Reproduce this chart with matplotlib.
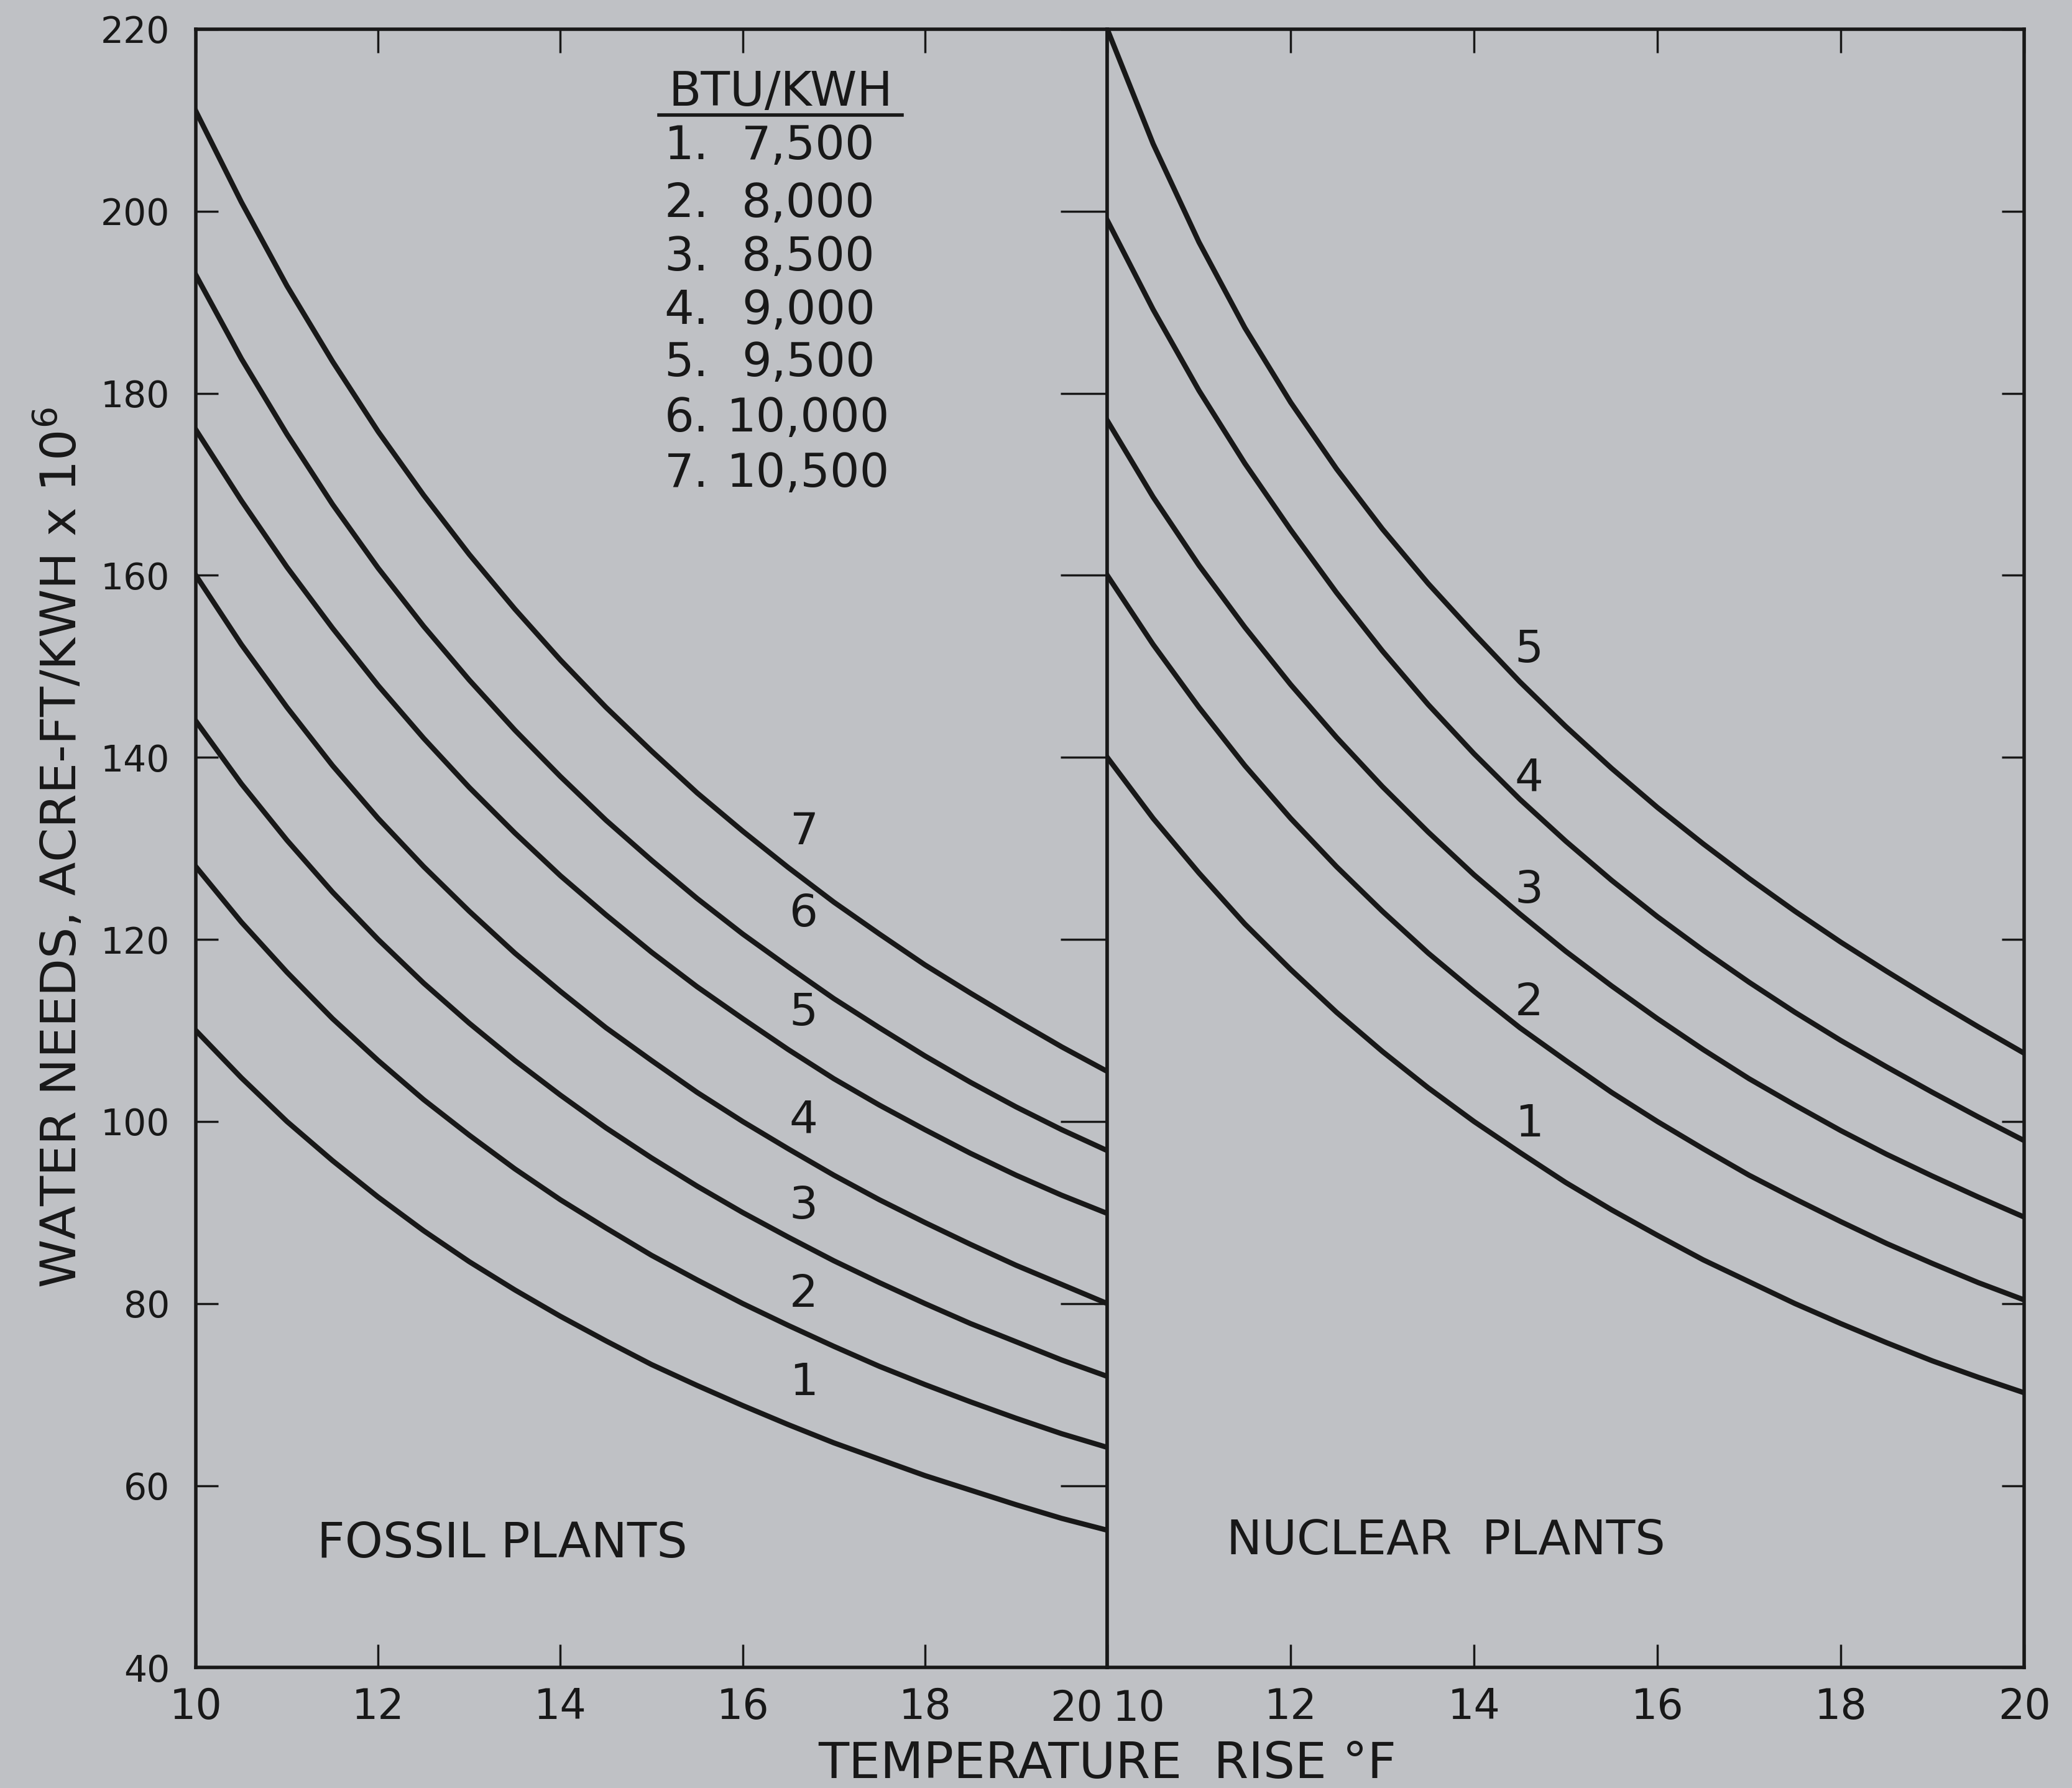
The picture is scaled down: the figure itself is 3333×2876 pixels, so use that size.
import matplotlib.pyplot as plt

# temperature rise, deg F
temp_rise = [10, 10.5, 11, 11.5, 12, 12.5, 13, 13.5, 14, 14.5, 15,
             15.5, 16, 16.5, 17, 17.5, 18, 18.5, 19, 19.5, 20]

# fossil plants, water needs (acre-ft/kwh x 10^6), curves 1..7
fossil_1 = [110, 104.8, 100, 95.7, 91.7, 88, 84.6, 81.5, 78.6, 75.9, 73.3,
            71, 68.8, 66.7, 64.7, 62.9, 61.1, 59.5, 57.9, 56.4, 55.1]
fossil_2 = [128, 121.9, 116.4, 111.3, 106.7, 102.4, 98.5, 94.8, 91.4, 88.3, 85.3,
            82.6, 80, 77.6, 75.3, 73.1, 71.1, 69.2, 67.4, 65.7, 64.2]
fossil_3 = [144, 137.1, 130.9, 125.2, 120, 115.2, 110.8, 106.7, 102.9, 99.3, 96,
            92.9, 90, 87.3, 84.7, 82.3, 80, 77.8, 75.8, 73.8, 72]
fossil_4 = [160, 152.4, 145.5, 139.1, 133.3, 128, 123.1, 118.5, 114.3, 110.3, 106.7,
            103.2, 100, 97, 94.1, 91.4, 88.9, 86.5, 84.2, 82.1, 80]
fossil_5 = [176, 168.2, 160.9, 154.2, 147.9, 142.1, 136.7, 131.7, 127, 122.7, 118.6,
            114.8, 111.3, 107.9, 104.7, 101.8, 99.1, 96.5, 94.1, 91.9, 89.9]
fossil_6 = [193, 183.8, 175.5, 167.8, 160.8, 154.4, 148.5, 143, 137.9, 133.1, 128.7,
            124.5, 120.6, 117, 113.5, 110.3, 107.2, 104.3, 101.6, 99.1, 96.8]
fossil_7 = [211, 201, 191.8, 183.5, 175.8, 168.8, 162.3, 156.3, 150.7, 145.5, 140.7,
            136.1, 131.9, 127.9, 124.1, 120.6, 117.2, 114.1, 111.1, 108.2, 105.5]

# nuclear plants, curves 1..5
nuclear_1 = [140, 133.3, 127.3, 121.7, 116.7, 112, 107.7, 103.7, 100, 96.6, 93.3,
             90.3, 87.5, 84.8, 82.4, 80, 77.8, 75.7, 73.7, 71.9, 70.2]
nuclear_2 = [160, 152.4, 145.5, 139.1, 133.3, 128, 123.1, 118.5, 114.3, 110.3, 106.7,
             103.2, 100, 97, 94.1, 91.5, 89, 86.6, 84.4, 82.3, 80.4]
nuclear_3 = [177, 168.6, 161.1, 154.3, 148, 142.2, 136.8, 131.8, 127.1, 122.8, 118.7,
             114.9, 111.3, 107.9, 104.7, 101.8, 99, 96.4, 94, 91.7, 89.5]
nuclear_4 = [199, 189.2, 180.3, 172.3, 165, 158.1, 151.7, 145.8, 140.4, 135.4, 130.8,
             126.5, 122.5, 118.8, 115.3, 112, 108.9, 106, 103.2, 100.5, 97.9]
nuclear_5 = [220, 207.4, 196.6, 187.2, 179, 171.7, 165.1, 159.1, 153.6, 148.3, 143.4,
             138.8, 134.5, 130.5, 126.7, 123.1, 119.7, 116.5, 113.4, 110.4, 107.5]

heat_rates = ["7,500", "8,000", "8,500", "9,000", "9,500", "10,000", "10,500"]
x_ticks = [10, 12, 14, 16, 18, 20]
y_ticks = [40, 60, 80, 100, 120, 140, 160, 180, 200, 220]

paper = "#bfc1c5"
ink = "#181818"
plt.rcParams["font.family"] = ["DejaVu Sans"]

fig = plt.figure(figsize=(33.33, 28.76), dpi=100, facecolor=paper)
ax1 = fig.add_axes([0.0945, 0.0673, 0.4399, 0.9164], facecolor=paper)
ax2 = fig.add_axes([0.5344, 0.0673, 0.4425, 0.9164], facecolor=paper)

fossil = [fossil_1, fossil_2, fossil_3, fossil_4, fossil_5, fossil_6, fossil_7]
nuclear = [nuclear_1, nuclear_2, nuclear_3, nuclear_4, nuclear_5]

for vals in fossil:
    ax1.plot(temp_rise, vals, color=ink, lw=6, solid_joinstyle="round")
for vals in nuclear:
    ax2.plot(temp_rise, vals, color=ink, lw=6, solid_joinstyle="round")

for ax in (ax1, ax2):
    ax.set_xlim(10, 20)
    ax.set_ylim(40, 220)
    for s in ax.spines.values():
        s.set_linewidth(4)
        s.set_color(ink)
    ax.set_xticks(x_ticks)
    ax.set_yticks(y_ticks)
    ax.tick_params(axis="x", direction="in", length=27, width=2.5, color=ink,
                   top=True, bottom=True, labelsize=48, pad=22, labelcolor=ink)

# the "20|10" pair at the shared border is pushed apart by hand
ax1.set_xticklabels([str(t) for t in x_ticks[:-1]] + [""])
ax2.set_xticklabels([""] + [str(t) for t in x_ticks[1:]])
ax1.annotate("20", xy=(1, 0), xycoords="axes fraction", xytext=(-5, -24),
             textcoords="offset points", ha="right", va="top", fontsize=48, color=ink)
ax2.annotate("10", xy=(0, 0), xycoords="axes fraction", xytext=(6, -24),
             textcoords="offset points", ha="left", va="top", fontsize=48, color=ink)

ax1.tick_params(axis="y", direction="in", length=26, width=2.5, color=ink,
                left=True, right=True, labelsize=42, pad=30, labelcolor=ink)
ax1.set_yticklabels([str(v) for v in y_ticks])
# shared middle border: ticks cross it on both sides
for t in ax1.yaxis.get_major_ticks():
    t.tick2line.set_marker(0)
    t.tick2line.set_markersize(54)
    t.tick2line.set_markeredgewidth(2.5)
ax2.tick_params(axis="y", direction="in", length=26, width=2.5, color=ink,
                left=False, right=True, labelleft=False)

# curve numbers
fossil_lbl_y = [71.3, 81, 90.7, 100.1, 111.9, 122.8, 131.8]
for i, y in enumerate(fossil_lbl_y):
    ax1.text(16.67, y, str(i + 1), fontsize=52, color=ink, ha="center", va="center")
nuclear_lbl_y = [99.7, 113, 125.4, 137.7, 151.8]
for i, y in enumerate(nuclear_lbl_y):
    ax2.text(14.6, y, str(i + 1), fontsize=52, color=ink, ha="center", va="center")

# heat rate key
ax1.text(16.42, 213, "BTU/KWH", fontsize=55, color=ink, ha="center", va="center")
ax1.plot([15.08, 17.75], [210.6, 210.6], color=ink, lw=4)
key_y = [207.1, 200.8, 194.9, 189, 183.3, 177.2, 171.1]
for i, (y, hr) in enumerate(zip(key_y, heat_rates)):
    ax1.text(15.14, y, f"{i + 1}.", fontsize=54, color=ink, ha="left", va="center")
    ax1.text(16.72, y, hr, fontsize=54, color=ink, ha="center", va="center")

ax1.text(11.33, 53.6, "FOSSIL PLANTS", fontsize=56, color=ink, ha="left", va="center")
ax2.text(11.3, 53.9, "NUCLEAR  PLANTS", fontsize=55, color=ink, ha="left", va="center")

fig.text(0.5344, 0.0132, "TEMPERATURE  RISE °F", fontsize=58, color=ink,
         ha="center", va="center")
fig.text(0.029, 0.526, "WATER NEEDS, ACRE-FT/KWH x 10$^6$", fontsize=57, color=ink,
         ha="center", va="center", rotation=90)

fig.savefig("out.png", dpi=100, facecolor=paper)
